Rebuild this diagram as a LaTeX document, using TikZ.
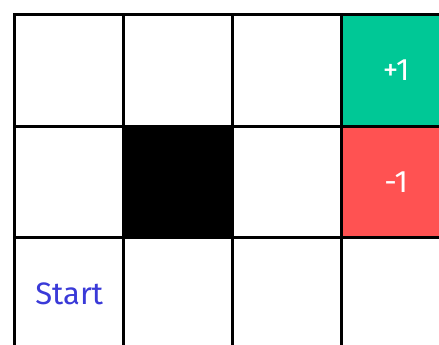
\documentclass[tikz,border=0pt]{standalone}
\usepackage{fontspec}
\setmainfont{Fira Sans}
\definecolor{goal}{HTML}{00C896}
\definecolor{pit}{HTML}{FF5252}
\definecolor{starttxt}{HTML}{3A3AD8}
\begin{document}
\begin{tikzpicture}[x=1pt,y=-1pt,
  cell/.style={draw=black,line width=3.4pt,minimum width=109pt,minimum height=111.5pt,inner sep=0pt,anchor=north west},
  lbl/.style={text=white,font=\fontsize{31}{34}\selectfont}]
\useasboundingbox (0,0) rectangle (439,345);
\clip (0,0) rectangle (439,345);
\fill[white] (0,0) rectangle (439,345);
\foreach \c in {0,1,2,3}{
  \foreach \r in {0,1,2}{
    \node[cell] (c\c r\r) at ({13+109*\c},{13+111.5*\r}) {};
  }
}
\node[cell,fill=goal] (goal) at (340,13) {};
\node[cell,fill=pit] (pit) at (340,124.5) {};
\node[cell,fill=black] (wall) at (122,124.5) {};
\node[lbl] (goaltxt) at (goal.center) {+1};
\node[lbl] (pittxt) at (pit.center) {-1};
\node[text=starttxt,font=\fontsize{31}{34}\selectfont] (start) at (c0r2.center) {Start};
\end{tikzpicture}
\end{document}
